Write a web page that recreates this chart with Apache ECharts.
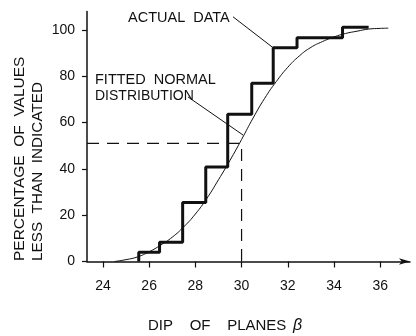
<!DOCTYPE html>
<html>
<head>
<meta charset="utf-8">
<script src="https://cdn.jsdelivr.net/npm/echarts@6/dist/echarts.min.js"></script>
<style>
  html, body { margin: 0; padding: 0; background: #fff; }
  #chart { width: 416px; height: 336px; }
</style>
</head>
<body>
<div id="chart"></div>
<script>
// step line of the observed data: x where each step rises, value after the rise
const stepEdges = [25.55, 25.55, 26.45, 27.45, 28.45, 29.4, 30.44, 31.37, 32.4, 34.37, 35.5];
const stepValues = [0, 4, 8.3, 25.5, 40.8, 63.6, 77, 92.3, 96.7, 101.2, 101.2];

// fitted normal curve
const curveX = [24.5, 25, 25.5, 26, 26.5, 27, 27.5, 28, 28.5, 29, 29.5, 30, 30.5, 31, 31.5, 32, 32.5, 33, 33.5, 34, 34.5, 35, 35.5, 36, 36.35];
const curveY = [0, 0.8, 2, 4.2, 7.1, 10.5, 15, 20.5, 27.3, 35.3, 43.7, 52.7, 62, 70.5, 77.7, 83.9, 88.8, 92.5, 95, 97, 98.5, 99.5, 100.4, 100.7, 100.8];

// median guide (dashed)
const guideX = [23.31, 30, 30];
const guideY = [51, 51, 0];

// leader lines from the labels
const leaderActualX = [29.63, 31.37];
const leaderActualY = [105.7, 92.3];
const leaderFitX = [27.68, 30.07];
const leaderFitY = [71.1, 54.6];

const xTicks = [24, 26, 28, 30, 32, 34, 36];
const yTicks = [0, 20, 40, 60, 80, 100];

const zip = (a, b) => a.map((v, i) => [v, b[i]]);
const ink = '#111';
const font = '"Liberation Sans", Arial, sans-serif';

const chart = echarts.init(document.getElementById('chart'));
chart.setOption({
  animation: false,
  backgroundColor: '#fff',
  grid: { left: 87, right: 6, top: 11.5, bottom: 74.5, containLabel: false, outerBoundsMode: 'none' },
  xAxis: {
    type: 'value',
    min: 23.31,
    max: 37.29,
    splitLine: { show: false },
    axisLine: {
      onZero: false,
      lineStyle: { color: ink, width: 1.5 },
      symbol: ['none', 'arrow'],
      symbolSize: [5, 11]
    },
    axisTick: { show: true, length: 6, lineStyle: { color: ink, width: 1.2 }, customValues: xTicks },
    axisLabel: { color: ink, fontSize: 14, fontFamily: font, margin: 18, customValues: xTicks }
  },
  yAxis: {
    type: 'value',
    min: 0,
    max: 108,
    splitLine: { show: false },
    axisLine: { show: true, onZero: false, lineStyle: { color: ink, width: 1.5 } },
    axisTick: { show: true, length: 5, lineStyle: { color: ink, width: 1.2 }, customValues: yTicks },
    axisLabel: { color: ink, fontSize: 14, fontFamily: font, margin: 12, customValues: yTicks }
  },
  series: [
    {
      type: 'line', step: 'end', symbol: 'none', silent: true,
      data: zip(stepEdges, stepValues),
      lineStyle: { color: ink, width: 3 }
    },
    {
      type: 'line', smooth: 0.5, symbol: 'none', silent: true,
      data: zip(curveX, curveY),
      lineStyle: { color: ink, width: 1 }
    },
    {
      type: 'line', symbol: 'none', silent: true,
      data: zip(guideX, guideY),
      lineStyle: { color: ink, width: 1.2, type: [12, 8] }
    },
    {
      type: 'line', symbol: 'none', silent: true,
      data: zip(leaderActualX, leaderActualY),
      lineStyle: { color: ink, width: 1 }
    },
    {
      type: 'line', symbol: 'none', silent: true,
      data: zip(leaderFitX, leaderFitY),
      lineStyle: { color: ink, width: 1 }
    }
  ],
  graphic: [
    { type: 'text', x: 128, y: 18, style: { text: 'ACTUAL  DATA', font: '14.5px ' + font, fill: ink, verticalAlign: 'middle' } },
    { type: 'text', x: 95, y: 80, style: { text: 'FITTED  NORMAL', font: '14.5px ' + font, fill: ink, verticalAlign: 'middle' } },
    { type: 'text', x: 95, y: 96, style: { text: 'DISTRIBUTION', font: '14px ' + font, fill: ink, verticalAlign: 'middle' } },
    { type: 'text', x: 20, y: 261, rotation: Math.PI / 2, style: { text: 'PERCENTAGE  OF  VALUES', font: '15.5px ' + font, fill: ink, align: 'left', verticalAlign: 'middle' } },
    { type: 'text', x: 38, y: 261, rotation: Math.PI / 2, style: { text: 'LESS  THAN  INDICATED', font: '15.3px ' + font, fill: ink, align: 'left', verticalAlign: 'middle' } },
    {
      type: 'text', x: 148, y: 325.5,
      style: {
        text: '{a|DIP    OF    PLANES}  {b|β}',
        rich: {
          a: { font: '15px ' + font, fill: ink },
          b: { font: 'italic 16px ' + font, fill: ink }
        },
        verticalAlign: 'middle'
      }
    }
  ]
});
</script>
</body>
</html>
